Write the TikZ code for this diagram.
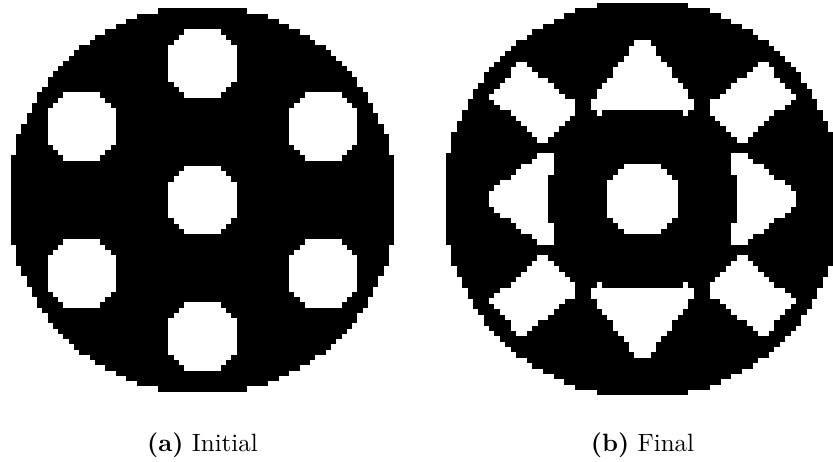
\documentclass[tikz,border=0pt]{standalone}

% one row of cells, from cell #1 to cell #2 on row #3
\newcommand{\pixrow}[3]{\fill (#1-0.52,#3-0.52) rectangle (#2+0.52,#3+0.52);}
% one column of cells, from cell #1 to cell #2 on column #3
\newcommand{\pixcol}[3]{\fill (#3-0.52,#1-0.52) rectangle (#3+0.52,#2+0.52);}

% pixel disc of 73 x 73 cells
\newcommand{\pixdisc}{%
  \foreach \j in {-36,...,36} {
    \pgfmathtruncatemacro\n{min(36,floor(sqrt(1370-(\j)*(\j))))}
    \pixrow{-\n}{\n}{\j}
  }}

% round hole of 13 cells centred at cell (#1,#2)
\newcommand{\pixhole}[2]{%
  \foreach \i in {-6,...,6} {
    \pgfmathtruncatemacro\n{floor(sqrt(46-(\i)*(\i)))}
    \pixrow{#1-\n}{#1+\n}{#2+\i}
  }}

\tikzset{
  matter/.style={fill=black},
  voids/.style={fill=white},
  caption/.style={anchor=base}
}

\begin{document}
\begin{tikzpicture}[x=0.4pt, y=-0.4pt]

    \useasboundingbox (0,0) rectangle (833,461);

    % Initial design
    \begin{scope}[shift={(202.5,200)}, x=2.1pt, y=2.1pt]
      \begin{scope}[matter]
        \pixdisc
      \end{scope}
      \begin{scope}[voids]
        \pixhole{0}{26}
        \pixhole{0}{0}
        \pixhole{0}{-26}
        \pixhole{-23}{14}
        \pixhole{23}{14}
        \pixhole{-23}{-14}
        \pixhole{23}{-14}
      \end{scope}
    \end{scope}

    % Final design
    \begin{scope}[shift={(642.5,199)}, x=2.152pt, y=2.152pt]
      \begin{scope}[matter]
        \pixdisc
      \end{scope}
      \begin{scope}[voids]
        \pixhole{0}{0}

        % triangles up and down
        \foreach \j in {17,...,29} {
          \pgfmathtruncatemacro\n{min(9,floor(9.5-(\j-18)*8/11))}
          \pixrow{-\n}{\n}{\j}
          \pixrow{-\n}{\n}{-\j}
        }
        \pixrow{-8}{-8}{16} \pixrow{8}{8}{16}
        \pixrow{-8}{-8}{-16} \pixrow{8}{8}{-16}

        % triangles left and right
        \foreach \i in {18,...,28} {
          \pgfmathtruncatemacro\n{min(8,floor(8.5-(\i-19)*7/9))}
          \pixcol{-\n}{\n}{\i}
          \pixcol{-\n}{\n}{-\i}
        }
        \pixcol{5}{8}{17} \pixcol{-8}{-5}{17}
        \pixcol{5}{8}{-17} \pixcol{-8}{-5}{-17}

        % diagonal blocks
        \foreach \j in {11,...,25} {
          \pgfmathtruncatemacro\a{ceil(max(13,13+(\j-18)*9/7,29-\j)-0.25)}
          \pgfmathtruncatemacro\b{floor(min(28-(\j-19)*5/6,19+(\j-11)*9/8)+0.25)}
          \pixrow{\a}{\b}{\j} \pixrow{-\b}{-\a}{\j}
          \pixrow{\a}{\b}{-\j} \pixrow{-\b}{-\a}{-\j}
        }
      \end{scope}
    \end{scope}

    % Labels
    \node[caption] (capa) at (202.5,451) {\textbf{(a)} Initial};
    \node[caption] (capb) at (642.5,451) {\textbf{(b)} Final};

\end{tikzpicture}
\end{document}
